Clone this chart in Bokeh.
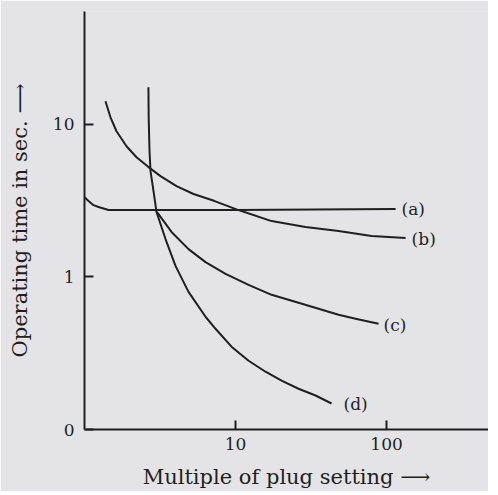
from bokeh.plotting import figure
from bokeh.models import FixedTicker, CustomJSTickFormatter
from bokeh.core.properties import value
from bokeh.embed import file_html
from bokeh.resources import INLINE

# Curve (a): nearly constant (definite minimum) time
a_x = [1.0, 1.063, 1.147, 1.238, 1.442, 10.0, 114.8]
a_y = [3.33, 3.14, 2.95, 2.87, 2.74, 2.74, 2.78]

# Curve (b)
b_x = [1.377, 1.486, 1.629, 1.897, 2.210, 2.653, 3.186, 4.067, 5.271, 7.2,
       10.47, 17.32, 29.08, 48.10, 79.55, 133.6]
b_y = [14.14, 11.11, 9.00, 7.18, 6.08, 5.24, 4.57, 3.93, 3.49, 3.15,
       2.74, 2.32, 2.12, 2.00, 1.85, 1.80]

# Curve (c)
c_x = [2.998, 3.091, 3.769, 4.883, 6.329, 8.587, 12.20, 17.32, 26.14, 48.10, 62.33, 88.51]
c_y = [2.66, 2.58, 1.97, 1.52, 1.25, 1.046, 0.886, 0.763, 0.676, 0.565, 0.532, 0.493]

# Curve (d)
d_x = [2.65, 2.66, 2.695, 2.736, 2.864, 2.998, 3.439, 4.005, 4.883, 6.329,
       7.371, 9.408, 12.20, 15.80, 20.17, 26.14, 33.87, 43.23]
d_y = [17.45, 11.11, 6.66, 4.93, 3.65, 2.66, 1.77, 1.18, 0.798, 0.548,
       0.457, 0.349, 0.282, 0.239, 0.209, 0.185, 0.167, 0.148]

curve_labels = ["(a)", "(b)", "(c)", "(d)"]
label_x = [125.7, 146.5, 95.5, 51.9]
label_y = [2.78, 1.77, 0.486, 0.148]

x_ticks = [10, 100]
y_ticks = [0.1, 1, 10]

paper = "#e4e4e6"
ink = "#1f1f1f"
font = "DejaVu Serif"

p = figure(width=488, height=491, x_axis_type="log", y_axis_type="log",
           x_range=(1, 473), y_range=(0.1, 54.8),
           output_backend="svg", toolbar_location=None,
           min_border_left=84, min_border_right=0, min_border_top=11, min_border_bottom=62)

p.background_fill_color = paper
p.border_fill_color = paper
p.outline_line_color = None
p.grid.visible = False

for xs, ys in [(a_x, a_y), (b_x, b_y), (c_x, c_y), (d_x, d_y)]:
    p.line(xs, ys, line_color=ink, line_width=2, line_join="round")

p.text(x=label_x, y=label_y, text=curve_labels, text_font=value(font),
       text_font_size="17px", text_color=ink, text_baseline="middle", text_align="left")

for ax in (p.xaxis[0], p.yaxis[0]):
    ax.axis_line_color = ink
    ax.axis_line_width = 2
    ax.major_tick_line_color = ink
    ax.major_tick_line_width = 2
    ax.major_tick_in = 9
    ax.major_tick_out = 0
    ax.minor_tick_line_color = None
    ax.major_label_text_font = font
    ax.major_label_text_font_size = "17px"
    ax.major_label_text_color = ink
    ax.axis_label_text_font = font
    ax.axis_label_text_font_size = "21px"
    ax.axis_label_text_font_style = "normal"
    ax.axis_label_text_color = ink

p.xaxis[0].ticker = FixedTicker(ticks=x_ticks)
p.yaxis[0].ticker = FixedTicker(ticks=y_ticks)
p.yaxis[0].formatter = CustomJSTickFormatter(code="return tick < 0.5 ? '0' : String(Math.round(tick));")
p.xaxis[0].formatter = CustomJSTickFormatter(code="return String(Math.round(tick));")

p.xaxis[0].axis_label = "Multiple of plug setting \u27f6"
p.yaxis[0].axis_label = "Operating time in sec. \u27f6"
p.xaxis[0].major_label_standoff = 8
p.yaxis[0].major_label_standoff = 10
p.xaxis[0].axis_label_standoff = 12
p.yaxis[0].axis_label_standoff = 18

open("out.html", "w").write(file_html(p, INLINE))
